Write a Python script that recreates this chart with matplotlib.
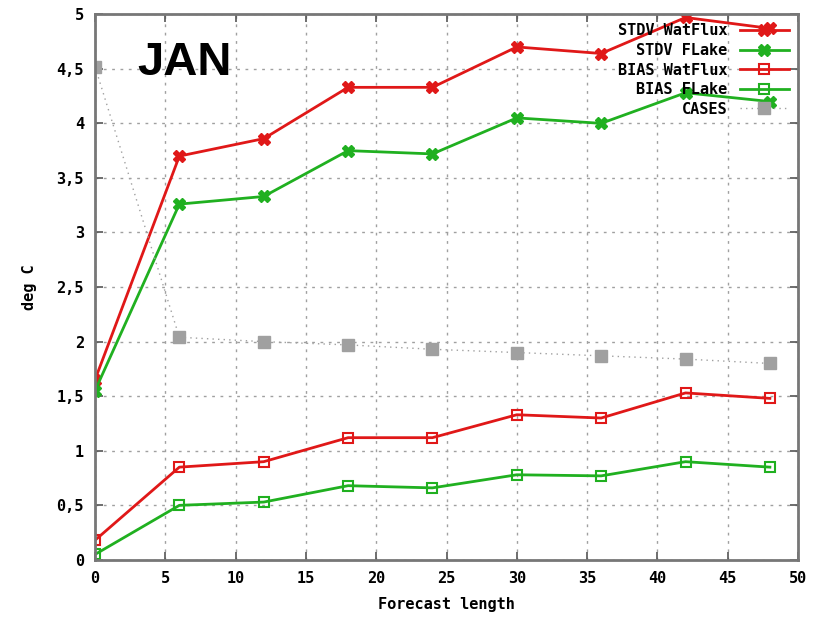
import matplotlib.pyplot as plt

# forecast length (hours)
lead = [0, 6, 12, 18, 24, 30, 36, 42, 48]

stdv_watflux = [1.65, 3.70, 3.86, 4.33, 4.33, 4.70, 4.64, 4.97, 4.87]
stdv_flake = [1.55, 3.26, 3.33, 3.75, 3.72, 4.05, 4.00, 4.28, 4.20]
bias_watflux = [0.18, 0.85, 0.90, 1.12, 1.12, 1.33, 1.30, 1.53, 1.48]
bias_flake = [0.05, 0.50, 0.53, 0.68, 0.66, 0.78, 0.77, 0.90, 0.85]
cases = [4.52, 2.04, 2.00, 1.97, 1.93, 1.90, 1.87, 1.84, 1.80]

RED = "#e01818"
GREEN = "#20b020"
GREY = "#a0a0a0"
MONO = "DejaVu Sans Mono"

fig = plt.figure(figsize=(8.21, 6.18), dpi=100)
ax = fig.add_axes([0.1157, 0.094, 0.8563, 0.883])

ax.plot(lead, stdv_watflux, color=RED, lw=2, marker="X", ms=8, label="STDV WatFlux")
ax.plot(lead, stdv_flake, color=GREEN, lw=2, marker="X", ms=8, label="STDV FLake")
ax.plot(lead, bias_watflux, color=RED, lw=2, marker="s", ms=7, mfc="none", mew=1.5, label="BIAS WatFlux")
ax.plot(lead, bias_flake, color=GREEN, lw=2, marker="s", ms=7, mfc="none", mew=1.5, label="BIAS FLake")
ax.plot(lead, cases, color=GREY, lw=1, ls=(0, (1, 3)), marker="s", ms=8, label="CASES")

ax.set_xlim(0, 50)
ax.set_ylim(0, 5)
ax.set_xticks(range(0, 51, 5))
ax.set_yticks([0, 0.5, 1, 1.5, 2, 2.5, 3, 3.5, 4, 4.5, 5])
ax.set_yticklabels(["0", "0,5", "1", "1,5", "2", "2,5", "3", "3,5", "4", "4,5", "5"])
ax.grid(True, color="#a0a0a0", ls=(0, (2, 4)), lw=1)
ax.tick_params(direction="in", length=6, width=1.2, top=True, right=True,
               colors="#555555", labelcolor="black", pad=8)
for lbl in ax.get_xticklabels() + ax.get_yticklabels():
    lbl.set_fontfamily(MONO)
    lbl.set_fontweight("bold")
    lbl.set_fontsize(11)
for s in ax.spines.values():
    s.set_color("#777777")
    s.set_linewidth(2)

ax.set_xlabel("Forecast length", fontfamily=MONO, fontweight="bold", fontsize=11, labelpad=8)
ax.set_ylabel("deg C", fontfamily=MONO, fontweight="bold", fontsize=11, labelpad=14)

ax.text(0.06, 0.91, "JAN", transform=ax.transAxes, fontfamily="Liberation Sans",
        fontweight="bold", fontsize=34, va="center", ha="left")

leg = ax.legend(loc="upper right", frameon=False, markerfirst=False,
                prop={"family": MONO, "weight": "bold", "size": 11},
                handlelength=3.2, labelspacing=0.3, borderaxespad=0.2,
                bbox_to_anchor=(1.0, 1.0))
for t in leg.get_texts():
    t.set_ha("right")

fig.savefig("out.png", dpi=100, facecolor="white")
